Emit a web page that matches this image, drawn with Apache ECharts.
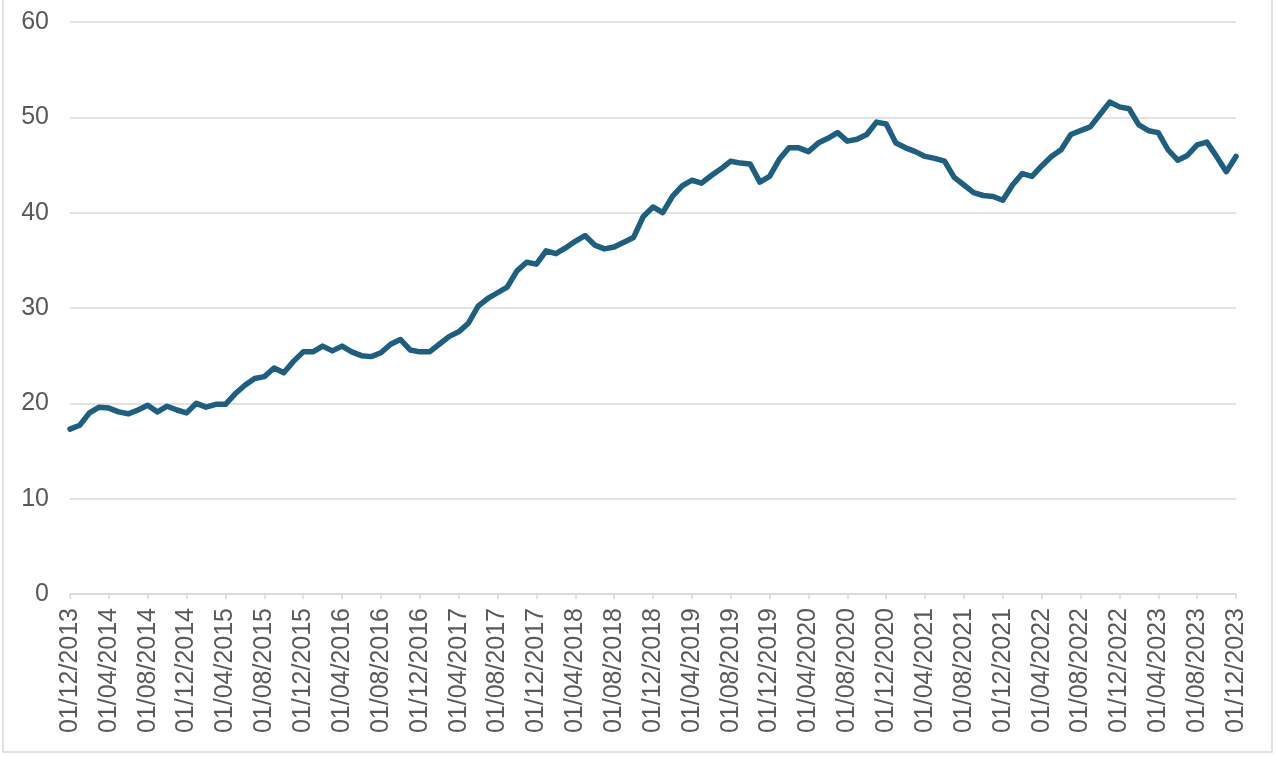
<!DOCTYPE html>
<html>
<head>
<meta charset="utf-8">
<script src="https://cdn.jsdelivr.net/npm/echarts@6/dist/echarts.min.js"></script>
<style>
html,body{margin:0;padding:0;background:#fff;}
#chart{width:1277px;height:757px;}
</style>
</head>
<body>
<div id="chart"></div>
<script>
// Monthly dates, Dec 2013 .. Dec 2023
var startYear = 2013, startMonth = 12, monthCount = 121;
var categories = [];
for (var k = 0; k < monthCount; k++) {
  var m = (startMonth - 1 + k) % 12 + 1;
  var y = startYear + Math.floor((startMonth - 1 + k) / 12);
  categories.push('01/' + (m < 10 ? '0' + m : '' + m) + '/' + y);
}

var values = [
  17.3, 17.7, 19.0, 19.6, 19.5, 19.1, 18.9, 19.3, 19.8, 19.1, 19.7, 19.3,
  19.0, 20.0, 19.6, 19.9, 19.9, 21.0, 21.9, 22.6, 22.8, 23.7, 23.2, 24.4,
  25.4, 25.4, 26.0, 25.5, 26.0, 25.4, 25.0, 24.9, 25.3, 26.2, 26.7, 25.6,
  25.4, 25.4, 26.2, 27.0, 27.5, 28.4, 30.2, 31.0, 31.6, 32.2, 33.9, 34.8,
  34.6, 36.0, 35.7, 36.3, 37.0, 37.6, 36.6, 36.2, 36.4, 36.9, 37.4, 39.6,
  40.6, 40.0, 41.7, 42.8, 43.4, 43.1, 43.9, 44.6, 45.4, 45.2, 45.1, 43.2,
  43.8, 45.6, 46.8, 46.8, 46.4, 47.3, 47.8, 48.4, 47.5, 47.7, 48.2, 49.5,
  49.3, 47.3, 46.8, 46.4, 45.9, 45.7, 45.4, 43.7, 42.9, 42.1, 41.8, 41.7,
  41.3, 42.9, 44.1, 43.8, 44.9, 45.9, 46.6, 48.2, 48.6, 49.0, 50.3, 51.6,
  51.1, 50.9, 49.2, 48.6, 48.4, 46.6, 45.5, 46.0, 47.1, 47.4, 45.9, 44.3,
  45.9
];

var yTicks = [0, 10, 20, 30, 40, 50, 60];

var chart = echarts.init(document.getElementById('chart'), null, {renderer: 'canvas'});
var labelFont = '"Liberation Sans", Arial, Helvetica, sans-serif';
chart.setOption({
  animation: false,
  backgroundColor: '#ffffff',
  graphic: [{
    type: 'rect',
    shape: {x: 3, y: -5, width: 1269, height: 757},
    style: {fill: 'none', stroke: '#d9d9d9', lineWidth: 1.5},
    silent: true
  }],
  grid: {left: 70, right: 41, top: 22, bottom: 163, containLabel: false},
  xAxis: {
    type: 'category',
    data: categories,
    boundaryGap: false,
    axisLine: {show: true, lineStyle: {color: '#d9d9d9', width: 1.5}},
    axisTick: {show: true, interval: 3, length: 5, lineStyle: {color: '#d9d9d9', width: 1.5}},
    axisLabel: {
      interval: 3, rotate: 90, margin: 14,
      color: '#595959', fontSize: 25, fontFamily: labelFont
    },
    splitLine: {show: false}
  },
  yAxis: {
    type: 'value',
    min: yTicks[0], max: yTicks[yTicks.length - 1], interval: 10,
    axisLine: {show: false},
    axisTick: {show: false},
    axisLabel: {margin: 21, color: '#595959', fontSize: 25, fontFamily: labelFont},
    splitLine: {show: true, lineStyle: {color: '#d9d9d9', width: 1.5}}
  },
  series: [{
    type: 'line',
    data: values,
    showSymbol: false,
    symbol: 'none',
    smooth: false,
    lineStyle: {color: '#1d5f80', width: 5.5, join: 'round', cap: 'round'},
    itemStyle: {color: '#1d5f80'}
  }]
});
</script>
</body>
</html>
